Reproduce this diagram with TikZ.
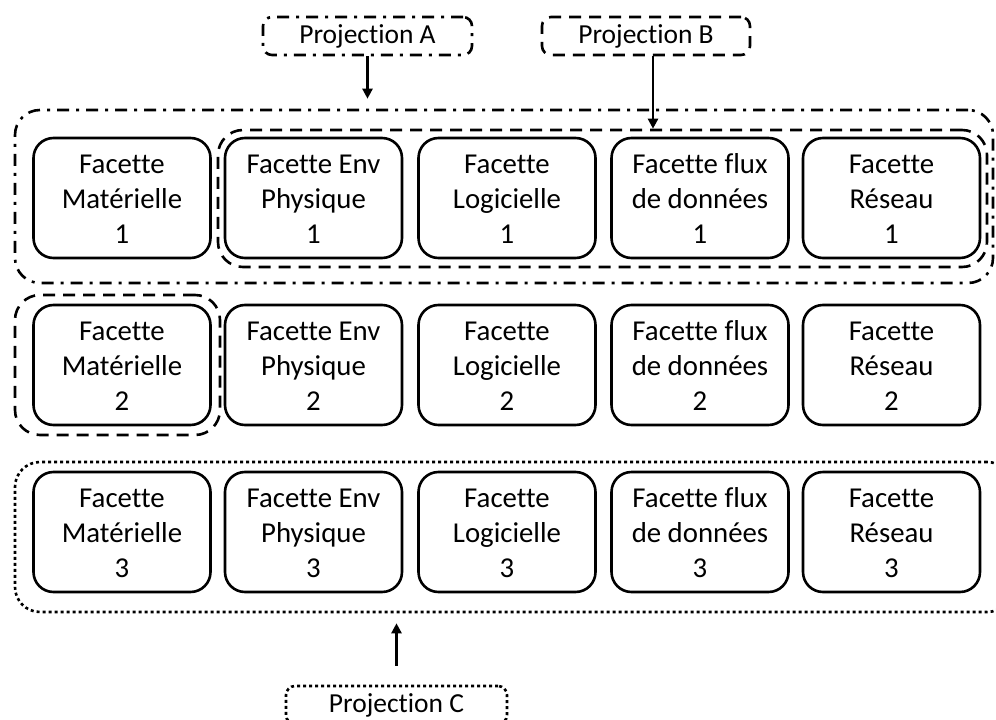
\documentclass[tikz,border=0pt]{standalone}
\usepackage{fontspec}
\setmainfont{Carlito}[Ligatures={NoCommon}]
\usetikzlibrary{arrows.meta}
% fixed-height line strut so every three-line label sits at the same height
\newcommand\lnstrut{\rule[-5pt]{0pt}{30pt}}
\newcommand\facettext[3]{\lnstrut#1\\\lnstrut#2\\\lnstrut#3}
\begin{document}
\begin{tikzpicture}[x=1pt,y=-1pt,
  facet/.style={draw, line width=2.6pt, rounded corners=20pt, rectangle,
    minimum width=177pt, minimum height=120pt, inner sep=0pt, align=center,
    font=\fontsize{28.8}{35}\selectfont},
  group/.style={draw, line width=2.6pt, rounded corners=25pt, rectangle, inner sep=0pt},
  projbox/.style={draw, line width=2.6pt, rounded corners=9pt, rectangle,
    minimum height=38pt, inner sep=0pt, font=\fontsize{27.5}{33}\selectfont},
  dashdot/.style={dash pattern=on 12pt off 7pt on 3pt off 7pt},
  dashlong/.style={dash pattern=on 12pt off 8pt},
  dotfine/.style={dash pattern=on 3pt off 3pt},
  arr/.style={line width=2.4pt, -{Triangle[width=10pt,length=10pt]}}
]
\useasboundingbox (0,0) rectangle (996,720);
\clip (0,0) rectangle (996,720);

% facets: one row per instance
\foreach \r/\y in {1/198,2/365,3/532} {
  \node[facet] (mat\r) at (122,\y)   {\facettext{Facette}{Matérielle}{\r}};
  \node[facet] (env\r) at (313.5,\y) {\facettext{Facette Env}{Physique}{\r}};
  \node[facet] (log\r) at (507,\y)   {\facettext{Facette}{Logicielle}{\r}};
  \node[facet] (flx\r) at (700,\y)   {\facettext{Facette flux}{de données}{\r}};
  \node[facet] (res\r) at (891.5,\y) {\facettext{Facette}{Réseau}{\r}};
}

% groupings
\node[group, dashdot, minimum width=978pt, minimum height=173pt] (cA) at (504,196.5) {};
\node[group, dashlong, minimum width=769pt, minimum height=137pt] (cB) at (602.5,198.5) {};
\node[group, dashlong, minimum width=205pt, minimum height=140pt] (cM) at (117.5,365) {};
\node[group, dotfine, minimum width=997pt, minimum height=150pt] (cC) at (513.5,537) {};

% projections
\node[projbox, dashdot, minimum width=209pt] (pA) at (367.5,36) {Projection A};
\node[projbox, dashlong, minimum width=208pt] (pB) at (646,36) {Projection B};
\node[projbox, dotfine, minimum width=221pt] (pC) at (396.5,705) {Projection C};

% arrows
\draw[arr, shorten >=10pt] (pA.south) -- (pA.south |- cA.north);
\draw[arr] ([xshift=7pt]pB.south) -- ([xshift=7pt]pB.south |- cB.north);
\draw[arr, shorten <=19pt, shorten >=10pt] (pC.north) -- (pC.north |- cC.south);
\end{tikzpicture}
\end{document}
